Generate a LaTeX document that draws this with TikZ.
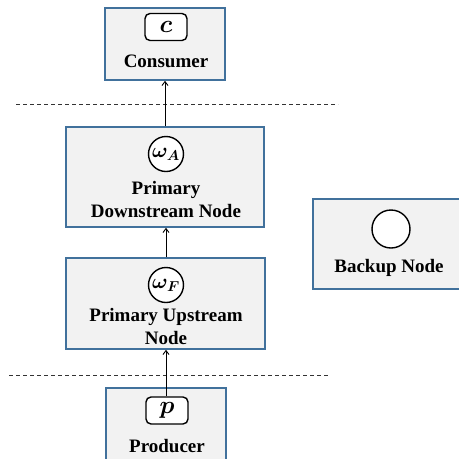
\documentclass[tikz,border=0pt]{standalone}
\usepackage{amsmath,bm}
\usepackage{fontspec}
\setmainfont{Liberation Serif}
\usetikzlibrary{arrows.meta}
\definecolor{boxedge}{HTML}{41719C}
\definecolor{boxfill}{HTML}{F2F2F2}
\begin{document}
\begin{tikzpicture}[x=1pt,y=-1pt,
  outerbox/.style={draw=boxedge,fill=boxfill,line width=1.5pt},
  tagbox/.style={draw=black,fill=white,line width=1.4pt,rounded corners=5pt,minimum width=42pt,minimum height=27pt,inner sep=0pt},
  tagcircle/.style={draw=black,fill=white,line width=1.4pt,circle,minimum size=35pt,inner sep=0pt},
  lbl/.style={font=\fontsize{19}{23}\selectfont\bfseries,align=center,inner sep=0pt},
  mathlbl/.style={font=\fontsize{27}{30}\selectfont},
  omlbl/.style={font=\fontsize{22}{25}\selectfont},
  sep/.style={dashed,draw=black!80,line width=0.9pt,dash pattern=on 4pt off 3pt},
  flow/.style={-{Straight Barb[length=4pt,width=6pt]},line width=0.9pt}]
\useasboundingbox (0,0) rectangle (459,459);
\begin{scope}
\clip (0,0) rectangle (459,459);
% Consumer
\node[outerbox,minimum width=120pt,minimum height=72pt,inner sep=0pt] (cons) at (165,44) {};
\node[tagbox,mathlbl] (ctag) at (166,27) {$\bm{c}$};
\node[lbl] (clbl) at (166,61) {Consumer};
% Downstream
\node[outerbox,minimum width=198pt,minimum height=100pt,inner sep=0pt] (down) at (165,177) {};
\node[tagcircle,omlbl] (dtag) at (166,154) {$\bm{\omega_{A}}$};
\node[lbl] (dlbl) at (166,199) {Primary\\Downstream Node};
% Upstream
\node[outerbox,minimum width=199pt,minimum height=91pt,inner sep=0pt] (up) at (165.5,303.5) {};
\node[tagcircle,omlbl] (utag) at (166,285) {$\bm{\omega_{F}}$};
\node[lbl] (ulbl) at (166,326) {Primary Upstream\\Node};
% Producer
\node[outerbox,minimum width=120pt,minimum height=90pt,inner sep=0pt] (prod) at (166,433) {};
\node[tagbox,mathlbl] (ptag) at (167,410.5) {$\bm{p}$};
\node[lbl] (plbl) at (167,446) {Producer};
% Backup
\node[outerbox,minimum width=160pt,minimum height=90pt,inner sep=0pt] (back) at (393,244) {};
\node[tagcircle,minimum size=38pt] (btag) at (391,229) {};
\node[lbl] (blbl) at (389,268) {Backup Node};
\end{scope}
% separators
\coordinate (s1a) at (16,104);
\coordinate (s1b) at (338,104);
\coordinate (s2a) at (9,375);
\coordinate (s2b) at (330,375);
\draw[sep] (s1a) -- (s1b);
\draw[sep] (s2a) -- (s2b);
% flows
\draw[flow] (down.north -| 165,0) -- (cons.south -| 165,0);
\draw[flow] (up.north -| 166,0) -- (down.south -| 166,0);
\draw[flow] (ptag.north -| 166,0) -- (up.south -| 166,0);
\end{tikzpicture}
\end{document}
